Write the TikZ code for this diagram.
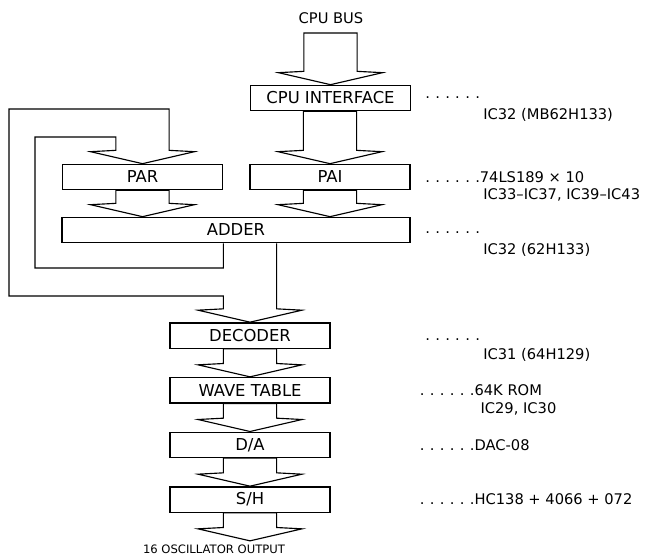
\documentclass[tikz,border=0pt]{standalone}
\usepackage{fontspec}
\setmainfont{DejaVu Sans}
\usetikzlibrary{positioning}

% a row of leader dots in the parts column
\newcommand{\dotrun}{.\kern4pt.\kern4pt.\kern4pt.\kern4pt.\kern4pt.}
% wide bus arrow: #1 = where the shaft starts, #2 = tip
\newcommand{\busarrow}[2]{%
  \draw[bus] ([xshift=-20pt]#2 |- #1) -- ([xshift=-20pt,yshift=10pt]#2)
    -- ([xshift=-39pt,yshift=9pt]#2) -- (#2) -- ([xshift=39pt,yshift=9pt]#2)
    -- ([xshift=20pt,yshift=10pt]#2) -- ([xshift=20pt]#2 |- #1) -- cycle;}

\begin{document}
\begin{tikzpicture}[x=0.75pt,y=-0.75pt,font=\fontsize{11}{13}\selectfont,
  blk/.style={draw,line width=1pt,minimum width=120pt,minimum height=19pt,
              inner sep=0pt,font=\fontsize{12.3}{14}\selectfont},
  bus/.style={draw,line width=0.85pt,line join=miter},
  note/.style={anchor=west,inner sep=0pt}]
  \useasboundingbox (0,0) rectangle (654,558);

  \node (cpubus) at (331,18) {CPU BUS};
  \node[blk] (iface) at (330.5,98) {CPU INTERFACE};
  \node[blk] (par) at (142.5,177) {PAR};
  \node[blk] (pai) at (330,177) {PAI};
  \node[blk,minimum width=261pt] (adder) at (236,230) {ADDER};
  \node[blk] (decoder) at (250,335.5) {DECODER};
  \node[blk,below=21pt of decoder] (wave) {WAVE TABLE};
  \node[blk,below=21pt of wave] (da) {D/A};
  \node[blk,below=21pt of da] (sh) {S/H};

  \coordinate (bustop) at (330.5,33);
  \coordinate (ifacetip) at (iface.north);
  \coordinate (paitip) at (pai.north);
  \coordinate (partip) at (par.north);
  \coordinate (paiadd) at (pai |- adder.north);
  \coordinate (paradd) at (par |- adder.north);
  \coordinate (dectip) at (decoder.north);
  \coordinate (wavetip) at (wave.north);
  \coordinate (datip) at (da.north);
  \coordinate (shtip) at (sh.north);
  \coordinate (outtip) at ([yshift=-21pt]sh.south);

  \busarrow{bustop}{ifacetip}
  \busarrow{iface.south}{paitip}
  \busarrow{pai.south}{paiadd}
  \busarrow{par.south}{paradd}
  \busarrow{decoder.south}{wavetip}
  \busarrow{wave.south}{datip}
  \busarrow{da.south}{shtip}
  \busarrow{sh.south}{outtip}

  % adder output: two feedback loops into PAR, main path into DECODER
  \draw[bus] ([xshift=-20pt]dectip |- adder.south) |- (35,268)
    |- ([xshift=-20pt]partip |- 0,137) -- ([xshift=-20pt,yshift=10pt]partip)
    -- ([xshift=-39pt,yshift=9pt]partip) -- (partip)
    -- ([xshift=39pt,yshift=9pt]partip) -- ([xshift=20pt,yshift=10pt]partip)
    |- (9,109) |- ([xshift=-20pt]dectip |- 0,296)
    -- ([xshift=-20pt,yshift=10pt]dectip) -- ([xshift=-39pt,yshift=9pt]dectip)
    -- (dectip) -- ([xshift=39pt,yshift=9pt]dectip)
    -- ([xshift=20pt,yshift=10pt]dectip) -- ([xshift=20pt]dectip |- adder.south);

  \node[font=\fontsize{8.7}{10}\selectfont] (outlabel) at (214,549)
    {16 OSCILLATOR OUTPUT};

  % parts column
  \coordinate (dotcol) at (425,0);
  \coordinate (partcol) at (483,0);
  \node[note] (ifacedots) at (dotcol |- iface) {\dotrun};
  \node[note] (ifacepart) at ([yshift=-13pt]partcol |- iface) {IC32 (MB62H133)};
  \node[note] (paidots) at (dotcol |- pai) {\dotrun74LS189 \texttimes\ 10};
  \node[note] (paipart) at ([yshift=-13.5pt]partcol |- pai) {IC33–IC37, IC39–IC43};
  \node[note] (adderdots) at ([yshift=-2pt]dotcol |- adder) {\dotrun};
  \node[note] (adderpart) at ([yshift=-15pt]partcol |- adder) {IC32 (62H133)};
  \node[note] (decdots) at ([yshift=-3pt]dotcol |- decoder) {\dotrun};
  \node[note] (decpart) at ([yshift=-14.5pt]partcol |- decoder) {IC31 (64H129)};
  \node[note] (wavedots) at ([xshift=-4pt]dotcol |- wave) {\dotrun64K ROM};
  \node[note] (wavepart) at ([yshift=-14pt,xshift=-2pt]partcol |- wave) {IC29, IC30};
  \node[note] (dadots) at ([xshift=-4pt]dotcol |- da) {\dotrun DAC-08};
  \node[note] (shdots) at ([xshift=-4pt]dotcol |- sh) {\dotrun HC138 + 4066 + 072};
\end{tikzpicture}
\end{document}
